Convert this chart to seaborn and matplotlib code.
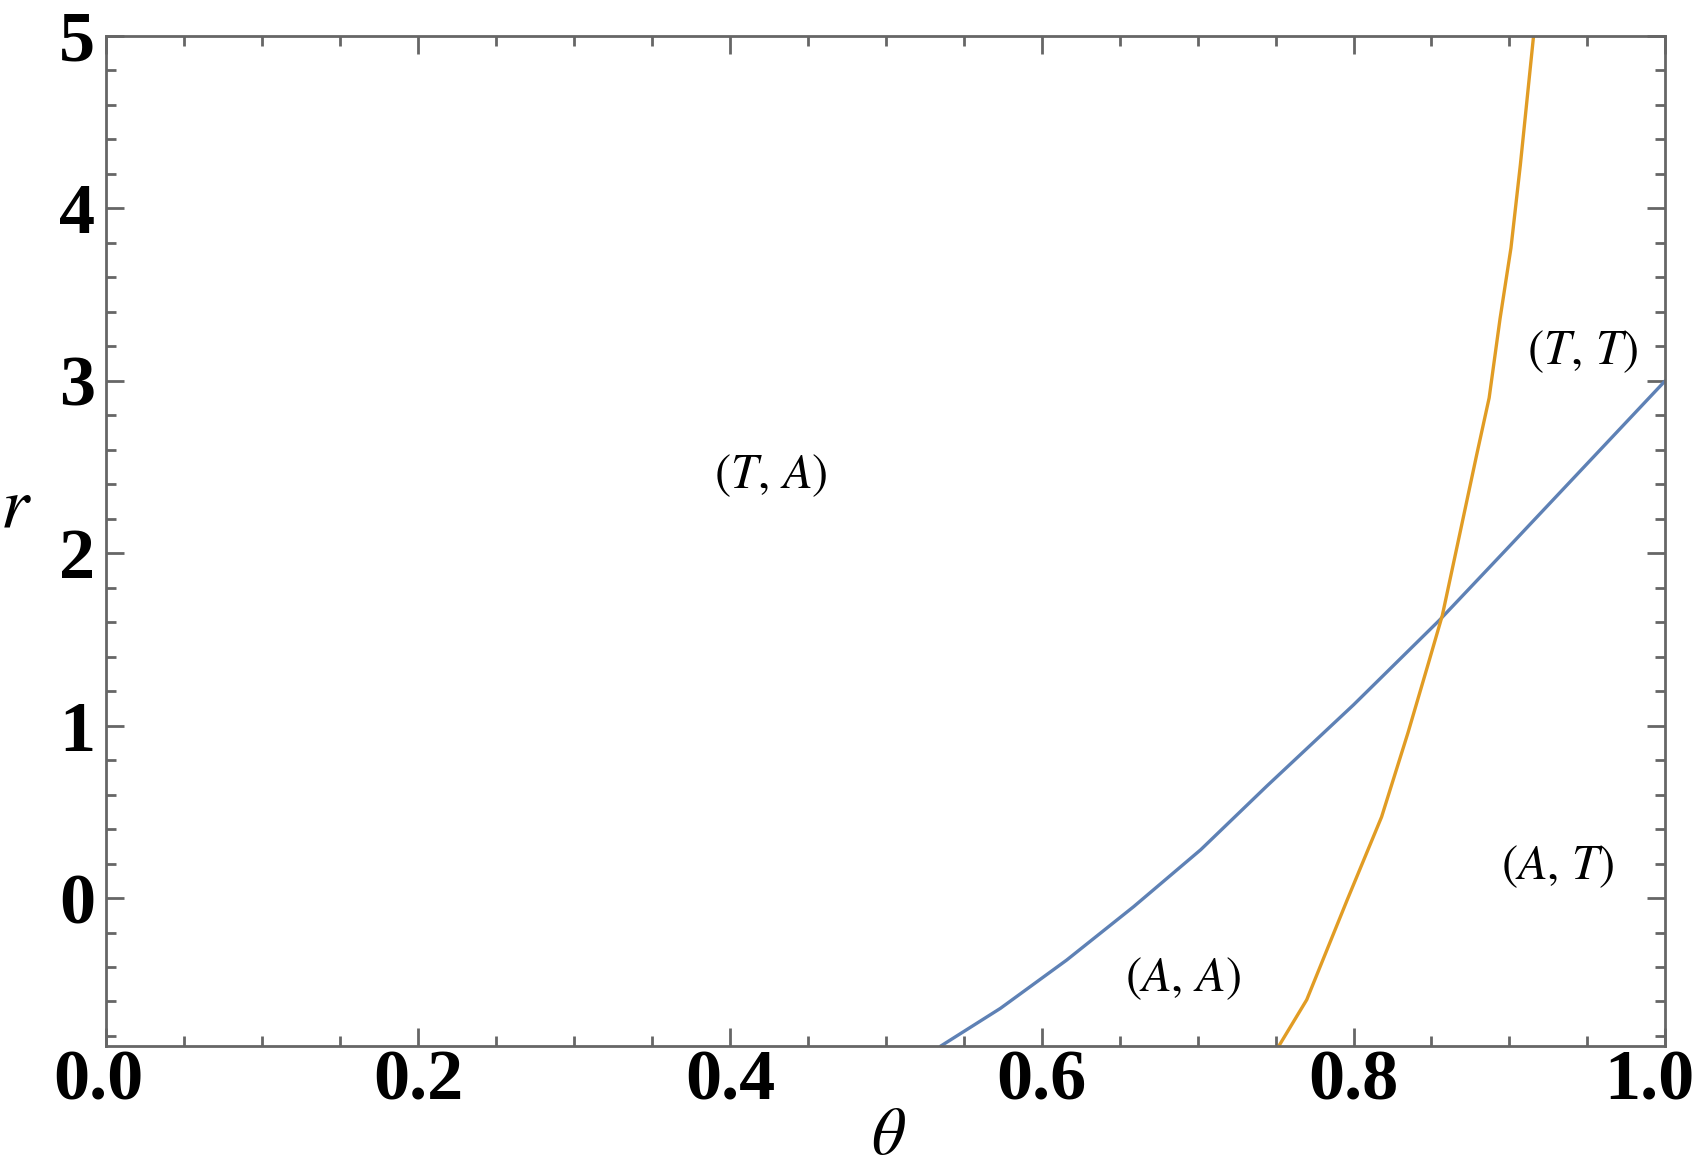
import pandas as pd
import matplotlib
matplotlib.use('Agg')
import matplotlib.pyplot as plt
import matplotlib.transforms as mtransforms
import seaborn as sns
from matplotlib.ticker import MultipleLocator

# curves
blue_theta = [0.535, 0.5735, 0.616, 0.659, 0.702, 0.7445, 0.8, 0.855, 0.9, 0.95, 1.0]
blue_r = [-0.86, -0.64, -0.36, -0.05, 0.28, 0.65, 1.12, 1.61, 2.04, 2.52, 3.0]

orange_theta = [0.752, 0.770, 0.796, 0.818, 0.835, 0.848, 0.857, 0.866, 0.879,
                0.887, 0.894, 0.901, 0.907, 0.9155]
orange_r = [-0.86, -0.59, -0.01, 0.47, 0.96, 1.36, 1.64, 2.02, 2.57,
            2.90, 3.36, 3.77, 4.25, 5.0]

region_labels = [r'$(T,\,A)$', r'$(T,\,T)$', r'$(A,\,T)$', r'$(A,\,A)$']
region_x = [0.426, 0.947, 0.931, 0.691]
region_y = [2.45, 3.17, 0.18, -0.47]

x_ticks = [0.0, 0.2, 0.4, 0.6, 0.8, 1.0]
y_ticks = [0, 1, 2, 3, 4, 5]

sns.set_style('ticks')
plt.rcParams['font.family'] = ['Liberation Serif', 'DejaVu Serif']
plt.rcParams['mathtext.fontset'] = 'stix'

df_blue = pd.DataFrame({'theta': blue_theta, 'r': blue_r})
df_orange = pd.DataFrame({'theta': orange_theta, 'r': orange_r})

fig = plt.figure(figsize=(17, 11.73), dpi=100)
ax = fig.add_axes([0.0625, 0.108, 0.9171, 0.8615])

sns.lineplot(data=df_blue, x='theta', y='r', color='#5E81B5', linewidth=2.4, ax=ax, sort=False)
sns.lineplot(data=df_orange, x='theta', y='r', color='#E19C24', linewidth=2.4, ax=ax, sort=False)

for lab, x, y in zip(region_labels, region_x, region_y):
    ax.text(x, y, lab, fontsize=35, ha='center', va='center', color='black')

ax.set_xlim(0, 1)
ax.set_ylim(-0.86, 5)
ax.set_xticks(x_ticks)
ax.set_xticklabels([f'{v:.1f}' for v in x_ticks])
ax.set_yticks(y_ticks)
ax.set_yticklabels([str(v) for v in y_ticks])
ax.xaxis.set_minor_locator(MultipleLocator(0.05))
ax.yaxis.set_minor_locator(MultipleLocator(0.2))

for s in ax.spines.values():
    s.set_color('#666666')
    s.set_linewidth(2)
ax.tick_params(which='both', direction='in', top=True, right=True, color='#666666',
               width=2, labelcolor='black')
ax.tick_params(which='major', length=13, labelsize=52)
ax.tick_params(axis='x', which='major', pad=2)
ax.tick_params(axis='y', which='major', pad=8)
ax.tick_params(which='minor', length=7)
for t in ax.get_xticklabels() + ax.get_yticklabels():
    t.set_fontweight('bold')

# end labels pulled inward so they stay on the canvas
xlabs = ax.get_xticklabels()
xlabs[0].set_transform(xlabs[0].get_transform() + mtransforms.ScaledTranslation(-8 / 100, 0, fig.dpi_scale_trans))
xlabs[-1].set_transform(xlabs[-1].get_transform() + mtransforms.ScaledTranslation(-16 / 100, 0, fig.dpi_scale_trans))

ax.set_xlabel(r'$\theta$', fontsize=48, color='black')
ax.set_ylabel(r'$r$', fontsize=52, rotation=0, color='black')
ax.xaxis.set_label_coords(0.502, -0.06)
ax.yaxis.set_label_coords(-0.058, 0.5)

fig.savefig('out.png', dpi=100)
